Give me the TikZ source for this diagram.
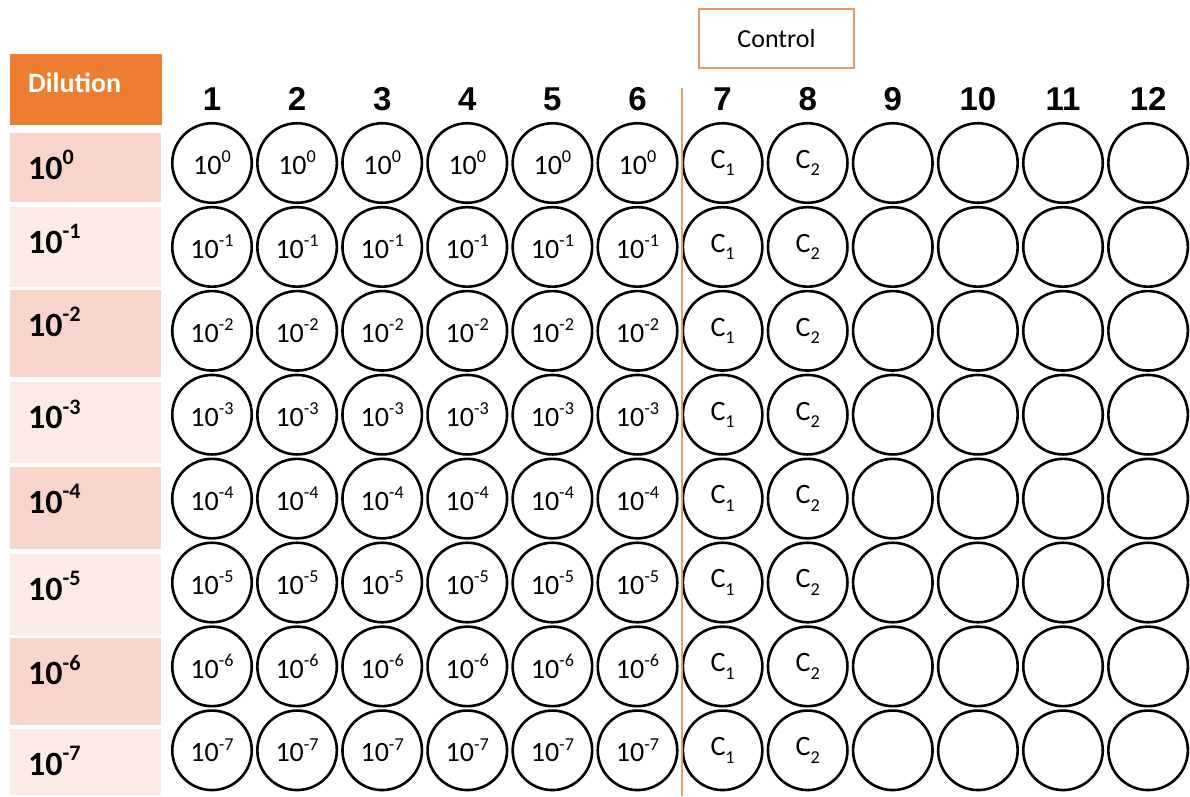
\documentclass[tikz,border=0pt]{standalone}
\usepackage{fontspec}
\setmainfont{Carlito}
\newfontfamily\arialfont{Liberation Sans}
\usetikzlibrary{positioning}
\definecolor{corange}{HTML}{ED7D31}
\definecolor{cpinkd}{HTML}{F8D5CB}
\definecolor{cpinkl}{HTML}{FCEAE5}
\definecolor{cline}{HTML}{E2A36B}
\definecolor{cbox}{HTML}{E5995A}
\newcommand{\pw}[2]{#1\raisebox{.42em}{\scalebox{.65}{#2}}}
\newcommand{\subidx}[1]{\raisebox{-.27em}{\scalebox{.65}{#1}}}
\tikzset{
  every picture/.style={x=1pt, y=-1pt},
  well/.style={draw, circle, line width=2.6pt, minimum size=79.5pt, inner sep=0pt, font=\fontsize{28}{32}\selectfont},
  cell/.style={fill=#1, minimum width=151pt, anchor=north west, inner sep=0pt},
  rowlab/.style={anchor=west, inner sep=0pt, font=\fontsize{34}{38}\selectfont\bfseries},
  colnum/.style={inner sep=0pt, font=\arialfont\bfseries\fontsize{33}{38}\selectfont},
  ctrlbox/.style={minimum width=154pt, minimum height=58pt, inner sep=0pt, font=\fontsize{26}{30}\selectfont},
}

\begin{document}
\begin{tikzpicture}
  \useasboundingbox (0,0) rectangle (1190,796);
  \node[cell=corange, minimum width=152pt, minimum height=71pt] (hdr) at (10,54) {};
  \node[anchor=west, inner sep=0pt, text=white, font=\fontsize{28}{32}\selectfont\bfseries] (hdrtxt) at (28,83) {Dilution};
  \foreach \r/\t/\b/\c in {0/133/202/cpinkd, 1/207/287/cpinkl, 2/290/377/cpinkd, 3/382/463/cpinkl,
                           4/467/549/cpinkd, 5/554/635/cpinkl, 6/638/725/cpinkd, 7/729/795/cpinkl} {
    \node[cell=\c, minimum height={(\b-\t)*1pt}] (d\r) at (10,\t) {};
    \node[rowlab] (l\r) at ([xshift=18pt, yshift=-32pt]d\r.north west) {\ifnum\r=0 \pw{10}{0}\else\pw{10}{-\r}\fi};
  }
  \foreach \c in {1,...,12} {\node[colnum] (h\c) at ({212+85.1*(\c-1)},99) {\c};}
  \foreach \r in {0,...,7} {
    \foreach \c in {1,...,12} {
      \node[well] (w\r-\c) at ({212+85.1*(\c-1)},{163+83.9*\r})
        {\ifnum\c<7 \pw{10}{\ifnum\r=0 0\else -\r\fi}\else\ifnum\c=7 C\subidx{1}\else\ifnum\c=8 C\subidx{2}\fi\fi\fi};
    }
  }
  \node[ctrlbox] (ctrl) at (776.5,38.5) {Control};
  \draw[cbox, line width=2pt] (ctrl.north west) rectangle (ctrl.south east);
  \coordinate (septop) at (682,88);
  \coordinate (sepbot) at (682,796);
  \draw[cline, line width=1.8pt] (septop) -- (sepbot);
\end{tikzpicture}
\end{document}
